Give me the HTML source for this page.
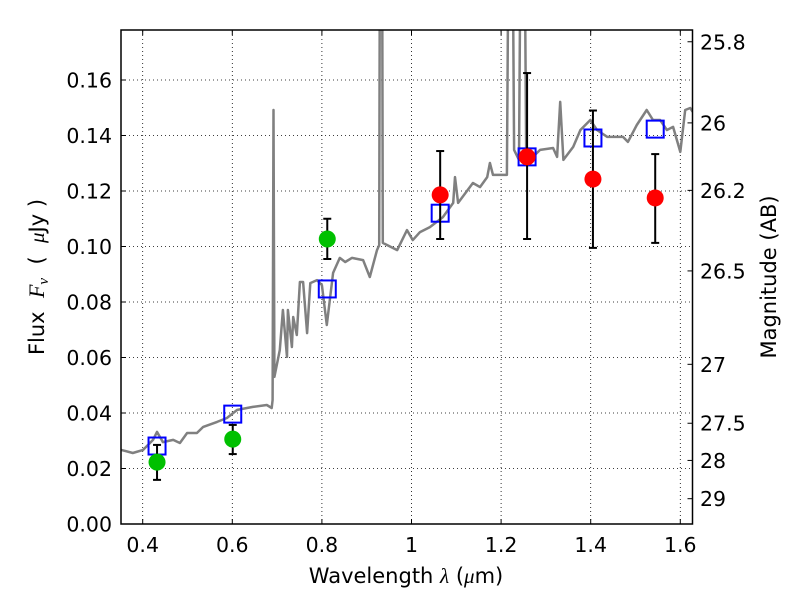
<!DOCTYPE html>
<html><head><meta charset="utf-8"><style>
body{margin:0;background:#fff;}
svg{display:block;font-family:"DejaVu Sans","Liberation Sans",sans-serif;}
</style></head><body>
<svg id="chart" width="800" height="600" viewBox="0 0 800 600" xmlns="http://www.w3.org/2000/svg">
<defs><clipPath id="plotclip"><rect x="121" y="30" width="571.5" height="494"/></clipPath></defs>
<rect x="0" y="0" width="800" height="600" fill="#fff"/>
<g id="grid"></g>
<g id="marks" clip-path="url(#plotclip)"></g>
<g id="axes"></g>
<text x="406" y="583" font-size="21" text-anchor="middle">Wavelength  <tspan font-family="Liberation Serif,serif" font-style="italic">λ</tspan> (<tspan font-family="Liberation Serif,serif" font-style="italic">μ</tspan>m)</text>
<text transform="translate(44,277) rotate(-90)" font-size="21" text-anchor="middle" xml:space="preserve">Flux  <tspan font-family="Liberation Serif,serif" font-style="italic" font-size="22">F</tspan><tspan font-family="Liberation Serif,serif" font-style="italic" font-size="15" dy="4">ν</tspan><tspan dy="-4">  (  </tspan><tspan font-family="Liberation Serif,serif" font-style="italic">μ</tspan>Jy )</text>
<text transform="translate(776,277) rotate(-90)" font-size="21" text-anchor="middle">Magnitude (AB)</text>
</svg>
<script>
const xTicks=[0.4,0.6,0.8,1.0,1.2,1.4,1.6];
const xTickLabels=["0.4","0.6","0.8","1","1.2","1.4","1.6"];
const yTicks=[0,0.02,0.04,0.06,0.08,0.10,0.12,0.14,0.16];
const yTickLabels=["0.00","0.02","0.04","0.06","0.08","0.10","0.12","0.14","0.16"];
const magTicks=[25.8,26,26.2,26.5,27,27.5,28,29];
const magTickLabels=["25.8","26","26.2","26.5","27","27.5","28","29"];
const specWave=[0.352,0.378,0.401,0.423,0.432,0.445,0.468,0.483,0.499,0.521,0.535,0.566,0.588,0.611,0.646,0.677,0.688,0.690,0.692,0.694,0.706,0.713,0.722,0.724,0.733,0.736,0.744,0.751,0.758,0.767,0.774,0.789,0.800,0.811,0.825,0.840,0.852,0.867,0.892,0.907,0.923,0.928,0.930,0.932,0.934,0.936,0.968,0.990,1.003,1.019,1.041,1.070,1.093,1.097,1.104,1.137,1.153,1.169,1.175,1.182,1.213,1.218,1.224,1.229,1.240,1.245,1.251,1.256,1.271,1.287,1.316,1.325,1.332,1.339,1.361,1.377,1.399,1.414,1.437,1.472,1.483,1.503,1.525,1.539,1.555,1.570,1.584,1.600,1.611,1.622,1.628];
const specFlux=[0.0267,0.0256,0.0267,0.0303,0.0332,0.0295,0.0303,0.0292,0.0328,0.0328,0.0350,0.0368,0.0382,0.0411,0.0422,0.0429,0.0418,0.0447,0.1492,0.0530,0.0627,0.0771,0.0602,0.0771,0.0638,0.0746,0.0681,0.0872,0.0872,0.0688,0.0868,0.0879,0.0861,0.0717,0.0905,0.0959,0.0944,0.0959,0.0951,0.0890,0.0987,0.1005,0.25,0.25,0.25,0.1013,0.0987,0.1059,0.1023,0.1052,0.1070,0.1106,0.1157,0.1250,0.1157,0.1229,0.1214,0.1250,0.1301,0.1258,0.1258,0.25,0.25,0.1348,0.1312,0.25,0.25,0.1323,0.1323,0.1348,0.1355,0.1323,0.1521,0.1312,0.1359,0.1420,0.1456,0.1420,0.1395,0.1395,0.1377,0.1438,0.1492,0.1456,0.1456,0.1420,0.1431,0.1341,0.1492,0.1499,0.1485];
const greenWave=[0.432,0.601,0.812];
const greenFlux=[0.0223,0.0306,0.1027];
const greenLo=[0.0159,0.0252,0.0955];
const greenHi=[0.0285,0.0357,0.1100];
const redWave=[1.064,1.258,1.405,1.544];
const redFlux=[0.1186,0.1323,0.1243,0.1175];
const redLo=[0.1027,0.1027,0.0995,0.1013];
const redHi=[0.1344,0.1625,0.1490,0.1333];
const modelWave=[0.432,0.601,0.812,1.064,1.258,1.405,1.544];
const modelFlux=[0.0281,0.0396,0.0847,0.1120,0.1323,0.1391,0.1423];

const X0=121,X1=692.5,Y0=524,Y1=30;
function xs(v){return 142.7+(v-0.4)*448;}
function ys(v){return 524-v*2775;}
function magToFlux(m){return Math.pow(10,(23.9-m)/2.5);}
const NS="http://www.w3.org/2000/svg";
function mk(tag,attrs,parent){const e=document.createElementNS(NS,tag);for(const k in attrs)e.setAttribute(k,attrs[k]);parent.appendChild(e);return e;}
const grid=document.getElementById('grid'),marks=document.getElementById('marks'),axes=document.getElementById('axes');

xTicks.forEach((t,i)=>{
  const g=mk('line',{x1:xs(t),x2:xs(t),y1:Y0,y2:Y1,stroke:'#000','stroke-width':0.8,'stroke-dasharray':'1,3'},grid);
  
  
  mk('line',{x1:xs(t),x2:xs(t),y1:Y0,y2:Y0-5,stroke:'#000','stroke-width':1},axes);
  mk('line',{x1:xs(t),x2:xs(t),y1:Y1,y2:Y1+5,stroke:'#000','stroke-width':1},axes);
  const tx=mk('text',{x:xs(t),y:552,'font-size':20.5,'text-anchor':'middle'},axes);
  tx.textContent=xTickLabels[i];
  
  
});
yTicks.forEach((t,i)=>{
  const g=mk('line',{x1:X0,x2:X1,y1:ys(t),y2:ys(t),stroke:'#000','stroke-width':0.8,'stroke-dasharray':'1,3'},grid);
  
  
  mk('line',{x1:X0,x2:X0+5,y1:ys(t),y2:ys(t),stroke:'#000','stroke-width':1},axes);
  const tx=mk('text',{x:112,y:ys(t)+7.5,'font-size':20.5,'text-anchor':'end'},axes);
  tx.textContent=yTickLabels[i];
  
  
});
magTicks.forEach((m,i)=>{
  const y=ys(magToFlux(m));
  mk('line',{x1:X1,x2:X1-5,y1:y,y2:y,stroke:'#000','stroke-width':1},axes);
  const tx=mk('text',{x:700,y:y+7.5,'font-size':20.5,'text-anchor':'start'},axes);
  tx.textContent=magTickLabels[i];
  
  
});

let d='';
specWave.forEach((w,i)=>{d+=(i?'L':'M')+xs(w).toFixed(1)+','+ys(specFlux[i]).toFixed(1);});
const sp=mk('path',{d:d,fill:'none',stroke:'#808080','stroke-width':2.5,'stroke-linejoin':'round'},marks);



modelWave.forEach((w,i)=>{
  const r=mk('rect',{x:xs(w)-8.5,y:ys(modelFlux[i])-8.5,width:17,height:17,fill:'none',stroke:'#0000ff','stroke-width':2},marks);
  
  
});
function pts(ws,fs,lo,hi,color,name){
  ws.forEach((w,i)=>{
    const x=xs(w);
    mk('line',{x1:x,x2:x,y1:ys(lo[i]),y2:ys(hi[i]),stroke:'#000','stroke-width':2},marks);
    mk('line',{x1:x-4,x2:x+4,y1:ys(lo[i]),y2:ys(lo[i]),stroke:'#000','stroke-width':2},marks);
    mk('line',{x1:x-4,x2:x+4,y1:ys(hi[i]),y2:ys(hi[i]),stroke:'#000','stroke-width':2},marks);
    const c=mk('circle',{cx:x,cy:ys(fs[i]),r:8.5,fill:color},marks);
    
    
  });
}
pts(greenWave,greenFlux,greenLo,greenHi,'#00c000','observed-point-green');
pts(redWave,redFlux,redLo,redHi,'#ff0000','observed-point-red');

const fr=mk('rect',{x:X0,y:Y1,width:X1-X0,height:Y0-Y1,fill:'none',stroke:'#000','stroke-width':1.5},axes);


</script>
</body></html>
